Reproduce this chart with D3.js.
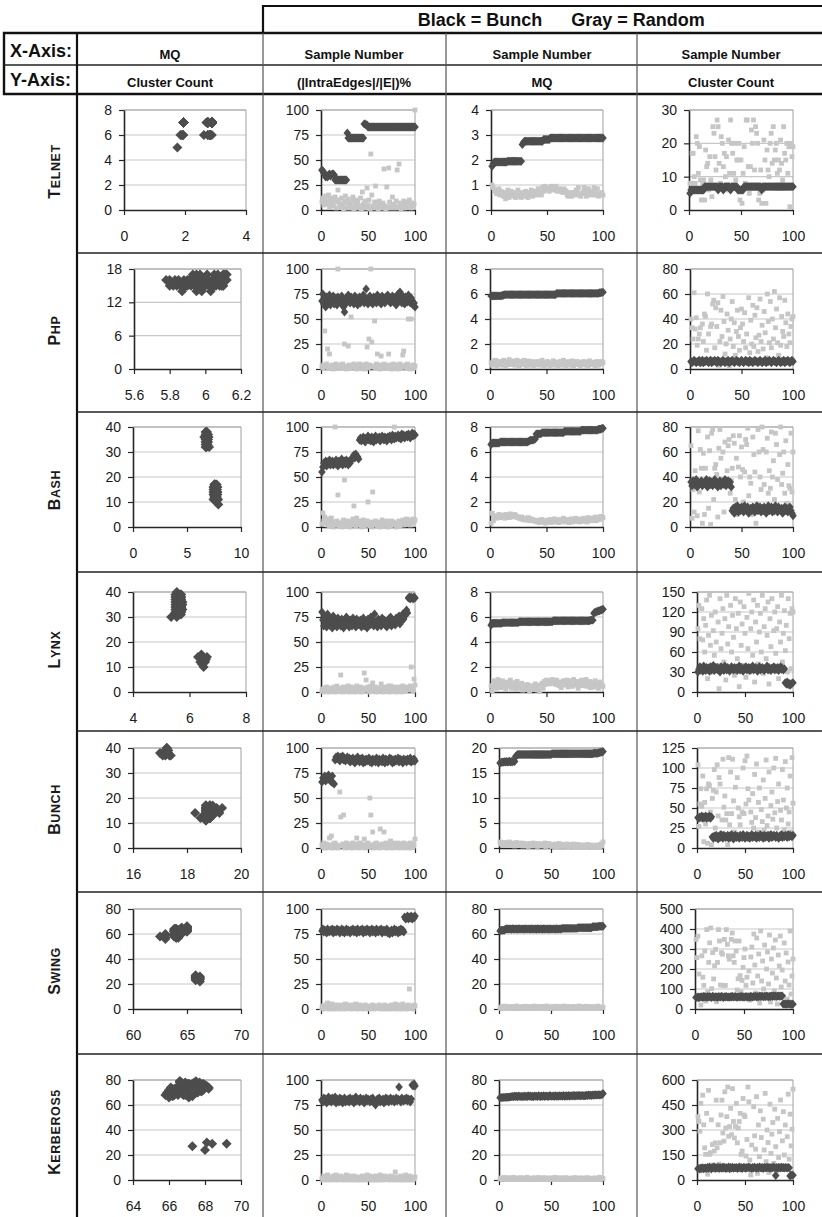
<!DOCTYPE html>
<html><head><meta charset="utf-8">
<script src="https://cdn.jsdelivr.net/npm/d3@7"></script>
<style>
body{margin:0;background:#fff}
svg{display:block}
text{font-family:"Liberation Sans",Arial,Helvetica,sans-serif}
</style>
</head><body>
<svg id="c" width="822" height="1217"></svg>
<script>
// ---------------- DATA ----------------
const systems = ["TELNET","PHP","BASH","LYNX","BUNCH","SWING","KERBEROS5"];
const legendBunch = "Black = Bunch";
const legendRandom = "Gray = Random";
const xAxisLabels = ["MQ","Sample Number","Sample Number","Sample Number"];
const yAxisLabels = ["Cluster Count","(|IntraEdges|/|E|)%","MQ","Cluster Count"];

const sampleTicks = [0,50,100];
const intraTicks = [0,25,50,75,100];
const col1XTicks = [[0,2,4],[5.6,5.8,6,6.2],[0,5,10],[4,6,8],[16,18,20],[60,65,70],[64,66,68,70]];
const col1YTicks = [[0,2,4,6,8],[0,6,12,18],[0,10,20,30,40],[0,10,20,30,40],[0,10,20,30,40],[0,20,40,60,80],[0,20,40,60,80]];
const mqYTicks = [[0,1,2,3,4],[0,2,4,6,8],[0,2,4,6,8],[0,2,4,6,8],[0,5,10,15,20],[0,20,40,60,80],[0,20,40,60,80]];
const countYTicks = [[0,10,20,30],[0,20,40,60,80],[0,20,40,60,80],[0,30,60,90,120,150],[0,25,50,75,100,125],[0,100,200,300,400,500],[0,150,300,450,600]];

// ---- TELNET ----
const telnetIntraBunch = [40,39,37,36,33,34,33,35,36,34, 35,36,36,35,30,30,30,30,30,30, 30,30,30,30,30,30,30,77,72,72, 72,72,72,72,72,72,72,72,72,72, 72,72,72,72,72,86,86,85,85,83, 83,83,83,83,83,83,83,83,83,83, 83,83,83,83,83,83,83,83,83,83, 83,83,83,83,83,83,83,83,83,83, 83,83,83,83,83,83,83,83,83,83, 83,83,83,83,83,83,83,83,83,83];
const telnetIntraRandom = [8,12,5,10,14,6,9,15,3,11, 7,12,4,9,13,2,8,20,10,6, 3,12,5,1,9,14,2,7,11,4, 6,2,9,13,1,5,10,3,8,2, 4,12,1,18,6,3,9,2,22,5, 10,1,56,15,4,2,8,24,3,6, 1,9,3,5,2,7,41,4,1,23, 3,42,8,2,5,13,4,6,2,9, 40,3,46,7,1,5,3,9,2,6, 4,8,3,10,5,2,7,4,6,100];
const telnetMQBunch = [1.75,1.85,1.92,1.92,1.92,1.92,1.92,1.92,1.92,1.92, 1.92,1.92,1.92,1.92,1.95,1.95,1.95,1.95,1.95,1.95, 1.95,1.95,1.95,1.95,1.95,1.95,1.95,2.62,2.7,2.75, 2.75,2.75,2.75,2.75,2.75,2.75,2.75,2.75,2.75,2.75, 2.75,2.75,2.75,2.75,2.75,2.75,2.82,2.82,2.82,2.82, 2.82,2.82,2.88,2.88,2.88,2.88,2.88,2.88,2.88,2.88, 2.88,2.88,2.88,2.88,2.88,2.88,2.88,2.88,2.88,2.88, 2.88,2.88,2.88,2.88,2.88,2.88,2.88,2.88,2.88,2.88, 2.88,2.88,2.88,2.88,2.88,2.88,2.88,2.88,2.88,2.88, 2.88,2.88,2.88,2.88,2.88,2.88,2.88,2.88,2.88,2.88];
const telnetMQRandom = [1.0,0.9,0.75,0.8,0.65,0.7,0.85,0.6,0.75,0.7, 0.55,0.7,0.45,0.6,0.8,0.5,0.65,0.75,0.55,0.6, 0.7,0.5,0.6,0.8,0.55,0.65,0.5,0.7,0.6,0.55, 0.75,0.6,0.5,0.7,0.65,0.8,0.55,0.6,0.75,0.7, 0.6,0.85,0.7,0.65,0.6,0.9,0.75,0.95,0.8,0.85, 0.9,0.75,0.8,0.95,0.85,0.9,0.8,0.95,0.75,0.8, 0.85,0.75,0.8,0.7,0.85,0.8,0.75,0.6,0.55,0.7, 0.6,0.55,0.7,0.65,0.6,0.8,0.75,0.9,0.6,0.55, 0.65,0.7,0.9,0.75,0.55,0.6,0.85,0.7,0.65,0.6, 0.75,0.9,0.6,0.7,0.85,0.55,0.65,0.6,0.7,0.6];
const telnetCountBunch = [5,6,6,6,6,6,6,6,6,6, 6,6,6,6,7,7,7,7,7,7, 7,7,7,7,7,7,7,6,7,7, 7,7,6,7,7,7,7,7,7,6, 7,7,7,7,7,7,6,6,6,6, 6,6,7,7,7,7,7,7,7,7, 7,7,7,7,7,7,7,7,7,6, 7,7,7,7,7,7,7,7,7,7, 7,7,7,7,7,7,7,7,7,7, 7,7,7,7,7,7,7,7,7,7];
const telnetCountRandom = [8,8,17,17,10,8,22,20,11,19, 9,3,8,9,3,18,13,14,6,16, 9,4,25,23,16,12,27,25,14,8, 22,20,13,17,10,16,6,21,11,27, 20,17,11,20,9,15,15,20,3,15, 2,11,19,8,27,27,13,5,13,24, 20,27,12,25,23,20,3,5,12,2, 6,21,15,2,18,12,10,20,23,14, 25,15,18,20,11,15,12,21,14,9, 25,17,15,20,11,19,1,20,16,19];

// ---- PHP ----
const phpIntraBunch = [68,75,65,70,62,72,66,68,74,64, 70,67,73,65,69,71,64,72,67,70, 66,73,68,62,57,65,71,67,74,69, 66,72,68,70,65,73,67,71,64,69, 72,66,70,68,74,66,71,80,68,65, 70,73,67,69,65,72,68,70,66,74, 69,67,71,65,73,68,70,66,72,69, 74,68,71,66,70,73,67,69,72,64, 70,75,68,77,71,66,73,69,65,72, 70,67,74,69,66,71,68,64,66,62];
const phpIntraRandom = [3,1,4,38,2,5,20,1,15,3, 2,4,0,3,1,5,2,100,3,1, 4,2,5,1,25,3,0,2,23,4, 1,52,3,2,5,1,4,0,3,2, 5,1,3,4,2,0,3,5,22,1, 30,4,100,27,2,3,48,1,5,15, 2,4,0,13,3,1,5,2,4,3, 1,15,2,4,0,3,5,1,2,4, 3,0,2,5,1,3,14,18,2,4, 1,5,50,3,0,50,2,4,1,3];
const phpMQBunch = [5.85,5.85,5.85,5.85,5.85,5.85,5.85,5.85,5.85,5.85, 5.9,5.9,5.95,5.95,5.95,5.95,5.95,5.95,5.95,5.95, 5.95,5.95,5.95,5.95,5.95,5.95,5.95,5.95,5.95,5.95, 5.95,5.95,5.95,5.95,5.95,5.95,5.95,5.95,5.95,5.95, 5.95,5.95,5.95,5.95,5.95,5.95,5.95,5.95,5.95,5.95, 5.95,5.95,5.95,5.95,5.95,5.95,5.95,5.95,6.05,6.05, 6.05,6.05,6.05,6.05,6.05,6.05,6.05,6.05,6.05,6.05, 6.05,6.05,6.05,6.05,6.05,6.05,6.05,6.05,6.05,6.05, 6.05,6.05,6.05,6.05,6.05,6.05,6.05,6.05,6.05,6.05, 6.05,6.05,6.05,6.05,6.05,6.05,6.1,6.1,6.12,6.15];
const phpMQRandom = [0.5,0.3,0.65,0.4,0.7,0.25,0.55,0.35,0.6,0.45, 0.3,0.7,0.5,0.2,0.6,0.4,0.75,0.35,0.55,0.45, 0.65,0.3,0.5,0.7,0.4,0.25,0.6,0.45,0.35,0.7, 0.55,0.2,0.45,0.65,0.3,0.5,0.6,0.4,0.25,0.55, 0.35,0.6,0.45,0.3,0.5,0.7,0.4,0.2,0.55,0.35, 0.6,0.45,0.25,0.5,0.35,0.65,0.3,0.55,0.4,0.2, 0.45,0.6,0.3,0.5,0.7,0.35,0.25,0.55,0.4,0.6, 0.3,0.5,0.65,0.2,0.45,0.35,0.6,0.4,0.55,0.25, 0.5,0.35,0.6,0.45,0.3,0.55,0.2,0.65,0.4,0.5, 0.35,0.55,0.25,0.45,0.6,0.3,0.5,0.4,0.6,0.5];
const phpCountBunch = [6,5,6,7,6,5,6,6,7,5, 6,7,5,6,6,7,6,5,6,7, 5,6,6,7,6,5,7,6,6,5, 6,7,6,5,6,6,7,5,6,6, 7,6,5,6,7,6,6,5,6,7, 6,5,6,7,6,6,5,7,6,6, 5,6,7,6,6,5,6,7,6,5, 6,6,7,5,6,6,7,6,5,6, 7,6,6,5,6,7,6,5,6,6, 7,5,6,6,7,6,5,6,7,6];
const phpCountRandom = [40,33,24,61,32,41,19,24,28,33, 4,36,22,44,42,15,60,28,8,34, 36,52,55,17,49,34,53,3,22,47, 26,58,38,12,20,44,31,2,24,40, 54,18,37,11,30,47,26,15,33,48, 36,22,45,17,28,5,57,13,39,20, 51,18,43,25,49,14,27,56,22,35, 16,46,29,9,60,38,21,54,17,40, 24,62,33,48,21,11,57,19,42,30, 26,55,37,18,44,28,21,34,40,42];
// PHP: the MQ vs cluster-count panel shows its own sample set
const phpScatterMQ = [5.78,5.8,5.8,5.82,5.83,5.84,5.85,5.86,5.87,5.88, 5.88,5.89,5.9,5.9,5.91,5.92,5.92,5.93,5.94,5.94, 5.95,5.95,5.96,5.96,5.97,5.97,5.98,5.98,5.99,5.99, 6.0,6.0,6.01,6.01,6.02,6.02,6.03,6.03,6.04,6.04, 6.05,6.05,6.06,6.06,6.07,6.07,6.08,6.08,6.09,6.09, 6.1,6.1,6.1,6.11,6.11,6.11,6.12,6.12,6.1,6.08];
const phpScatterCount = [16,15,16,15,16,15,16,15,14,15, 16,15,16,15,16,16,15,17,15,16, 17,14,16,15,17,16,15,14,16,15, 16,15,17,16,15,16,14,15,16,15, 17,15,16,15,16,17,15,16,15,16, 17,16,15,17,16,16,17,16,15,16];

// ---- BASH ----
const bashIntraBunch = [55,60,64,62,66,61,65,63,67,62, 64,66,62,65,63,67,64,61,66,63, 65,68,62,64,66,63,67,65,62,66, 64,67,68,70,72,69,73,71,70,68, 87,89,86,88,90,87,85,89,88,91, 87,89,86,90,88,85,89,91,87,89, 88,90,86,89,91,88,87,90,89,86, 90,88,91,89,87,92,90,88,91,89, 90,92,89,91,88,93,90,92,89,91, 92,90,93,91,89,92,94,91,93,92];
const bashIntraRandom = [3,14,6,10,4,8,2,5,1,7, 9,3,0,5,100,2,6,32,1,4, 3,0,5,7,47,2,1,4,6,3, 0,5,2,8,21,4,1,9,3,6, 2,5,0,3,7,1,4,2,6,25, 3,1,5,0,35,4,2,6,3,1, 5,2,0,4,7,1,3,5,2,6, 0,4,3,1,6,2,5,100,3,0, 4,2,6,1,5,3,7,2,4,6, 8,3,5,7,2,6,4,8,5,7];
const bashMQBunch = [6.6,6.72,6.72,6.72,6.72,6.72,6.72,6.72,6.8,6.8, 6.8,6.8,6.8,6.8,6.8,6.8,6.8,6.8,6.8,6.8, 6.8,6.8,6.8,6.8,6.8,6.8,6.8,6.8,6.8,6.8, 6.8,6.8,6.8,6.85,6.9,6.95,6.95,6.95,7.0,7.05, 7.45,7.45,7.45,7.45,7.45,7.55,7.55,7.55,7.55,7.55, 7.55,7.55,7.55,7.55,7.55,7.55,7.55,7.55,7.55,7.55, 7.55,7.55,7.55,7.55,7.55,7.65,7.65,7.65,7.65,7.65, 7.65,7.65,7.65,7.65,7.65,7.65,7.65,7.65,7.65,7.65, 7.75,7.75,7.75,7.75,7.75,7.75,7.75,7.75,7.75,7.75, 7.75,7.75,7.75,7.75,7.75,7.82,7.82,7.82,7.88,7.9];
const bashMQRandom = [0.3,1.1,0.5,0.8,0.9,0.7,0.85,1.0,0.75,0.9, 0.8,0.95,0.7,1.0,0.85,0.9,0.75,1.05,0.8,0.95, 0.85,1.0,0.9,0.75,0.8,0.7,0.65,0.8,0.6,0.7, 0.55,0.7,0.6,0.75,0.5,0.65,0.55,0.6,0.5,0.45, 0.5,0.4,0.55,0.35,0.45,0.6,0.4,0.5,0.3,0.45, 0.55,0.4,0.6,0.35,0.5,0.45,0.65,0.4,0.55,0.5, 0.35,0.6,0.45,0.5,0.7,0.4,0.55,0.45,0.6,0.35, 0.5,0.65,0.4,0.55,0.45,0.7,0.5,0.6,0.4,0.55, 0.65,0.45,0.7,0.5,0.6,0.4,0.75,0.55,0.65,0.5, 0.7,0.6,0.8,0.5,0.65,0.75,0.6,0.85,0.7,0.75];
const bashCountBunch = [36,33,37,34,35,38,32,36,34,35, 37,33,35,36,34,38,32,35,37,34, 36,33,35,38,34,36,32,35,37,33, 35,36,34,38,33,35,37,34,36,32, 13,15,11,16,14,17,12,15,13,16, 14,12,17,15,13,16,11,14,15,13, 16,14,12,15,17,13,14,16,12,15, 13,16,14,11,15,17,13,14,16,12, 15,13,17,14,12,16,14,13,15,11, 14,16,13,15,12,14,16,13,11,9];
const bashCountRandom = [65,7,30,12,45,32,9,77,28,62, 47,3,59,10,47,35,72,15,61,2, 75,78,22,47,50,42,8,63,78,55, 38,60,12,68,33,45,65,70,27,37, 47,73,67,22,55,10,48,73,40,64, 46,20,44,70,66,79,25,40,35,10, 72,58,44,3,18,78,60,40,30,80, 62,34,14,60,71,27,45,31,76,40, 53,22,75,66,38,12,58,80,34,43, 60,27,69,19,50,33,31,75,28,60];

// ---- LYNX ----
const lynxIntraBunch = [80,72,66,75,70,65,78,68,73,66, 71,64,76,69,67,72,65,74,68,70, 66,73,69,64,71,67,75,68,70,65, 72,68,66,74,69,71,65,73,67,70, 68,72,65,70,74,66,71,69,64,73, 70,67,75,68,72,66,78,69,71,65, 73,68,70,66,74,69,72,67,71,65, 70,73,68,75,66,72,69,71,67,74, 70,72,76,68,74,71,78,73,76,80, 82,79,94,95,93,95,94,93,95,94];
const lynxIntraRandom = [1,3,0,4,2,5,1,3,0,2, 4,1,3,5,0,2,6,3,1,4, 17,2,0,5,3,1,4,2,6,0, 3,5,1,4,2,0,3,6,1,4, 2,5,0,3,1,19,4,12,2,5, 0,3,6,1,9,4,2,5,0,3, 1,4,2,8,3,0,5,2,4,1, 3,6,0,6,2,4,1,5,3,0, 4,2,5,1,3,0,6,2,4,1, 3,5,2,4,6,25,3,1,13,7];
const lynxMQBunch = [5.35,5.5,5.5,5.5,5.5,5.5,5.5,5.5,5.5,5.5, 5.55,5.55,5.55,5.55,5.55,5.55,5.55,5.55,5.55,5.55, 5.55,5.55,5.55,5.55,5.55,5.62,5.62,5.62,5.62,5.62, 5.62,5.62,5.62,5.62,5.62,5.62,5.62,5.62,5.62,5.62, 5.62,5.62,5.62,5.62,5.62,5.62,5.62,5.62,5.62,5.62, 5.62,5.62,5.62,5.62,5.62,5.7,5.7,5.7,5.7,5.7, 5.7,5.7,5.7,5.7,5.7,5.7,5.7,5.7,5.7,5.7, 5.7,5.7,5.7,5.7,5.7,5.7,5.7,5.7,5.7,5.7, 5.7,5.7,5.7,5.7,5.7,5.7,5.7,5.7,5.75,5.75, 5.75,6.3,6.38,6.42,6.45,6.48,6.5,6.55,6.58,6.62];
const lynxMQRandom = [0.5,0.1,0.9,0.4,0.7,0.3,1.0,0.6,0.8,0.35, 0.9,0.55,0.7,0.25,0.8,0.45,0.6,0.95,0.3,0.75, 0.5,0.65,0.2,0.85,0.4,0.6,0.3,0.7,0.15,0.55, 0.45,0.25,0.6,0.35,0.1,0.5,0.3,0.4,0.2,0.65, 0.35,0.15,0.55,0.05,0.45,0.7,0.3,0.85,0.6,0.95, 0.75,0.9,0.65,0.8,1.0,0.7,0.85,0.6,0.95,0.75, 0.5,0.8,0.35,0.7,0.9,0.55,0.65,0.95,0.4,0.8, 0.6,0.9,0.45,1.0,0.7,0.55,0.85,0.3,0.75,0.65, 0.95,0.5,0.8,0.6,1.0,0.45,0.7,0.85,0.35,0.6, 0.75,0.4,0.9,0.55,0.65,0.3,0.8,0.5,0.6,0.45];
const lynxCountBunch = [30,34,38,33,36,31,39,35,32,37, 34,36,31,38,33,35,40,32,36,34, 37,33,35,30,38,34,36,32,39,35, 33,37,34,31,36,38,35,33,37,34, 36,32,35,39,33,37,34,31,36,35, 38,33,35,37,32,36,34,39,33,35, 37,34,31,36,38,33,35,37,34,32, 36,35,39,33,37,34,32,36,35,38, 33,36,34,37,32,35,38,34,36,33, 35,14,12,15,11,13,10,12,13,14];
const lynxCountRandom = [95,130,80,35,125,78,110,60,100,138, 20,85,145,70,115,30,92,55,120,75, 40,105,5,140,65,88,125,45,110,18, 145,72,98,35,130,60,115,82,25,140, 95,50,118,8,135,70,102,40,128,88, 22,112,65,148,30,95,120,55,138,15, 105,75,130,42,90,118,60,145,28,98, 125,50,85,135,12,110,68,140,38,92, 120,58,95,128,20,105,75,145,45,88, 122,62,100,30,140,80,118,35,125,120];

// ---- BUNCH ----
const bunchIntraBunch = [66,70,68,72,67,71,69,73,68,70, 66,72,65,64,88,91,89,92,90,87, 91,89,92,88,90,87,89,91,88,90, 86,89,87,90,88,85,89,87,91,88, 86,89,87,90,85,88,86,89,87,88, 90,86,88,85,89,87,88,86,90,87, 85,89,87,88,86,90,87,85,89,88, 86,88,90,87,89,85,88,86,89,87, 88,90,86,89,87,88,85,89,87,88, 86,89,88,87,90,86,88,87,89,87];
const bunchIntraRandom = [3,1,5,2,0,4,1,3,10,2, 12,0,4,2,5,1,3,0,2,56, 31,2,4,33,1,0,5,3,2,4, 1,3,0,5,2,4,1,10,3,0, 5,2,4,1,3,9,0,2,4,5, 1,50,33,3,16,0,4,2,5,1, 3,0,19,2,4,1,16,3,5,0, 2,4,1,7,3,0,5,2,4,1, 3,5,0,2,4,1,3,5,0,2, 4,1,3,0,5,2,4,1,3,9];
const bunchMQBunch = [17.0,17.1,17.2,17.15,17.25,17.2,17.3,17.2,17.25,17.35, 17.2,17.3,17.25,17.4,17.3,18.3,18.5,18.7,18.7,18.7, 18.7,18.7,18.7,18.7,18.7,18.7,18.7,18.7,18.7,18.7, 18.7,18.7,18.7,18.7,18.7,18.7,18.7,18.7,18.7,18.7, 18.7,18.7,18.7,18.7,18.7,18.7,18.7,18.7,18.7,18.7, 18.85,18.85,18.85,18.85,18.85,18.85,18.85,18.85,18.85,18.85, 18.85,18.85,18.85,18.85,18.85,18.85,18.85,18.85,18.85,18.85, 18.85,18.85,18.85,18.85,18.85,18.85,18.85,18.85,18.85,18.85, 18.85,18.85,18.85,18.85,18.85,18.85,18.85,18.85,18.85,18.85, 18.95,18.95,18.95,18.95,18.95,19.05,19.1,19.15,19.2,19.3];
const bunchMQRandom = [1.2,0.8,1.0,0.6,1.1,0.9,0.5,1.0,0.7,1.2, 0.8,0.6,1.0,0.9,0.4,0.7,1.1,0.5,0.8,0.9, 0.6,1.0,0.4,0.7,0.9,0.5,0.8,0.3,0.6,0.9, 0.7,0.4,1.0,0.5,0.8,0.6,0.3,0.9,0.7,0.5, 0.8,0.4,0.6,1.0,0.3,0.7,0.5,0.9,0.4,0.6, 0.3,0.7,0.5,0.8,0.2,0.6,0.4,0.9,0.3,0.5, 0.7,0.3,0.6,0.4,0.8,0.2,0.5,0.7,0.3,0.6, 0.4,0.8,0.2,0.5,0.3,0.7,0.4,0.6,0.2,0.5, 0.3,0.6,0.4,0.2,0.7,0.3,0.5,0.4,0.6,0.2, 0.5,0.3,0.4,0.6,0.2,0.5,0.3,0.8,0.4,1.2];
const bunchCountBunch = [38,37,39,38,40,37,39,38,40,37, 39,38,40,37,39,14,12,15,13,16, 14,11,15,13,17,14,12,16,15,13, 14,16,12,15,13,17,14,11,15,16, 13,15,14,12,16,14,13,17,15,12, 14,16,13,15,12,14,17,13,15,14, 16,12,15,14,13,17,14,15,12,16, 13,15,14,16,12,15,17,13,14,16, 15,13,16,14,12,15,14,17,13,15, 14,16,15,13,17,14,16,15,14,16];
const bunchCountRandom = [104,27,55,74,52,90,8,57,30,74, 6,80,78,45,4,62,72,98,25,70, 104,40,88,80,18,35,111,51,65,35, 43,4,113,29,95,43,111,59,20,76, 16,88,50,39,29,16,45,100,43,109, 55,115,74,60,12,45,32,68,25,92, 38,105,20,57,75,14,48,33,85,22, 62,110,28,40,95,18,53,70,36,100, 44,112,25,58,80,15,47,35,98,60, 23,108,50,75,30,45,90,20,113,56];

// ---- SWING ----
const swingIntraBunch = [78,80,77,79,78,76,80,78,77,79, 78,80,76,79,78,77,80,78,79,76, 78,80,77,79,76,78,80,77,79,78, 76,79,78,80,77,78,79,76,80,78, 77,79,78,80,76,78,79,77,80,78, 79,76,78,80,77,79,78,76,80,78, 77,79,78,80,76,78,79,77,78,80, 76,78,75,77,79,76,78,80,77,79, 78,76,79,77,80,78,79,77,92,90, 91,93,90,92,91,93,90,92,91,93];
const swingIntraRandom = [1,3,0,2,4,1,6,2,0,3, 2,5,1,0,3,2,4,1,3,0, 2,4,1,3,0,5,2,1,4,2, 3,0,2,4,1,3,5,2,0,1, 4,2,3,1,0,2,4,3,1,2, 0,3,1,2,4,0,2,1,3,2, 1,4,2,0,3,1,2,4,0,2, 3,1,2,0,4,2,1,3,5,0, 2,4,1,3,0,2,5,1,3,2, 0,2,4,20,1,3,2,0,4,3];
const swingMQBunch = [62.5,63,63,63,63,63.8,64,64.2,63.9,64.1, 64,63.8,64.2,64,63.9,64.1,64,63.8,64.2,64, 63.9,64.1,64,63.8,64.2,64,63.9,64.1,64,63.8, 64.2,64,63.9,64.1,64,63.8,64.2,64,63.9,64.1, 64,63.8,64.2,64,63.9,64.1,64,63.8,64.2,64, 63.9,64.1,64,63.8,64.2,64,63.9,64.1,64,64.2, 64.5,64.5,64.5,64.5,64.5,64.5,64.5,64.5,64.5,64.5, 64.5,64.5,64.5,64.5,64.5,65,65,65,65,65, 65,65,65,65,65,65,65,65,65,65.8, 65.8,65.8,65.8,65.8,65.8,66.2,66.2,66.2,66.2,66.2];
const swingMQRandom = [1.2,0.5,2.0,0.8,1.5,2.3,0.6,1.1,1.8,0.4, 1.4,2.1,0.7,1.0,1.7,0.5,2.4,1.3,0.9,1.6, 0.6,1.9,1.2,0.4,2.2,1.0,1.5,0.7,2.0,1.1, 1.7,0.5,1.3,2.3,0.8,1.6,0.4,1.9,1.2,0.7, 2.1,1.0,1.5,0.6,1.8,2.4,0.9,1.3,0.5,1.7, 1.1,2.0,0.7,1.4,2.2,0.5,1.6,1.0,1.9,0.8, 1.3,2.3,0.6,1.5,1.1,2.0,0.4,1.7,0.9,1.4, 2.1,0.7,1.2,1.8,0.5,1.6,2.4,1.0,1.3,0.8, 1.9,0.6,1.5,2.2,1.1,0.7,1.7,1.3,2.0,0.5, 1.4,0.9,1.8,1.2,2.3,0.6,1.6,1.0,1.5,1.2];
const swingCountBunch = [58,57,60,56,59,59,62,57,64,60, 61,58,63,59,62,60,57,64,61,59, 62,60,58,63,61,59,64,60,57,62, 60,63,59,61,58,62,60,64,59,61, 63,60,58,62,61,59,64,60,62,58, 61,63,59,60,62,58,64,61,60,63, 62,64,60,63,61,65,62,64,63,61, 64,62,65,63,61,64,62,66,63,65, 63,65,62,64,66,63,65,64,66,25, 24,26,23,25,27,24,26,22,25,24];
const swingCountRandom = [348,257,364,175,69,20,266,159,118,290, 40,397,85,233,331,405,102,282,150,216, 298,36,233,397,340,120,282,274,118,348, 118,397,323,266,249,60,348,380,266,233, 340,290,95,151,340,167,85,143,208,257, 300,118,159,69,190,45,260,310,130,375, 220,80,355,165,275,30,390,140,240,100, 320,55,200,285,125,370,35,250,180,305, 90,345,155,25,270,215,365,110,195,60, 330,140,280,50,235,120,390,75,165,250];

// ---- KERBEROS5 ----
const kerberosIntraBunch = [80,78,82,79,81,77,80,83,79,81, 78,82,80,79,83,77,81,80,78,82, 79,81,77,80,82,78,80,79,81,78, 82,80,79,81,77,80,83,79,81,80, 78,82,80,79,81,77,80,82,79,81, 80,78,81,79,82,80,77,75,79,81, 80,82,78,80,79,81,77,80,82,79, 81,78,80,82,79,80,81,78,80,82, 79,81,93,80,78,82,80,79,81,80, 82,79,81,80,78,81,95,94,96,94];
const kerberosIntraRandom = [2,0,4,1,3,0,5,2,1,3, 0,2,4,1,3,5,0,2,1,3, 4,1,0,2,3,1,5,0,2,4, 1,3,0,2,4,1,3,0,2,1, 3,0,2,4,1,3,0,2,5,1, 2,4,0,1,3,2,0,4,1,3, 0,2,5,1,3,0,2,4,1,2, 3,1,0,4,2,1,3,0,8,2, 1,3,0,2,4,1,0,3,2,5, 1,0,2,4,1,3,0,2,1,3];
const kerberosMQBunch = [65.8,65.9,66,66,66.1,66.1,66.2,66.2,66.3,66.3, 66.5,66.7,66.9,66.6,67.1,66.8,67,66.6,67.2,66.9, 66.7,67,66.5,67.3,66.8,67.1,66.6,67.4,66.9,67.2, 66.8,67,66.6,67.3,66.9,67.1,66.7,67.5,67,66.8, 67.2,66.9,67.4,66.7,67.1,67.3,66.8,67,67.6,66.9, 67.1,67.3,66.8,67.5,67,67.2,66.9,67.4,67.1,67.3, 67,67.6,66.9,67.2,67.4,67.1,67.7,67,67.3,67.5, 67.2,67.8,67.1,67.4,67.6,67.3,67.9,67.2,67.5,67.7, 67.4,67.3,67.6,67.8,67.5,68,67.7,67.9,67.6,68.1, 67.8,68,68.2,67.9,68.1,68.2,68,68.1,68.4,69.2];
const kerberosMQRandom = [0.9,1.6,0.4,1.2,2.0,0.7,1.4,0.3,1.8,1.0, 0.6,1.5,1.1,2.1,0.5,1.3,0.8,1.7,0.4,1.2, 1.9,0.7,1.4,1.0,0.3,1.6,2.2,0.9,1.2,0.5, 1.5,1.1,0.6,1.8,1.3,0.4,1.0,2.0,0.8,1.4, 0.7,1.2,1.9,0.5,1.1,1.6,0.9,0.3,1.4,1.7, 1.0,0.6,1.3,2.1,0.8,1.5,0.4,1.2,1.8,0.9, 1.4,0.7,1.1,1.9,0.5,1.3,1.0,1.6,0.3,1.2, 0.8,1.5,2.0,0.6,1.1,1.4,0.9,1.7,0.5,1.3, 1.0,1.6,0.4,1.2,1.9,0.7,1.3,1.1,0.6,1.5, 1.2,0.8,1.7,1.0,0.4,1.4,2.2,0.9,1.3,1.1];
const kerberosCountBunch = [68,70,66,72,69,74,67,71,73,68, 75,70,78,72,66,76,73,79,69,74, 71,77,68,75,73,70,78,72,76,69, 74,71,79,67,75,72,77,70,74,73, 76,69,73,78,71,75,68,74,77,72, 70,76,73,79,71,74,68,75,72,77, 73,70,76,71,78,74,72,75,69,76, 74,71,77,73,75,70,76,72,74,78, 73,27,75,71,76,74,72,77,73,75, 71,76,74,72,75,73,24,30,29,29];
const kerberosCountRandom = [380,351,292,460,60,509,331,193,154,400, 35,538,154,164,361,213,90,174,223,479, 193,331,95,223,390,479,282,233,529,312, 380,558,262,321,430,272,548,351,252,321, 460,223,312,351,400,154,174,489,390,380, 144,243,558,469,120,30,210,75,440,265, 185,500,40,330,140,415,255,65,365,180, 520,110,300,225,45,455,160,275,345,100, 425,200,55,370,135,290,480,85,235,410, 150,330,70,260,515,125,395,205,305,545];

// ---------------- TABLE BUILT FROM THE ARRAYS ----------------
const rows = [
  {intra:[telnetIntraBunch,telnetIntraRandom], mq:[telnetMQBunch,telnetMQRandom], cnt:[telnetCountBunch,telnetCountRandom]},
  {intra:[phpIntraBunch,phpIntraRandom], mq:[phpMQBunch,phpMQRandom], cnt:[phpCountBunch,phpCountRandom], scatter:[phpScatterMQ,phpScatterCount]},
  {intra:[bashIntraBunch,bashIntraRandom], mq:[bashMQBunch,bashMQRandom], cnt:[bashCountBunch,bashCountRandom]},
  {intra:[lynxIntraBunch,lynxIntraRandom], mq:[lynxMQBunch,lynxMQRandom], cnt:[lynxCountBunch,lynxCountRandom]},
  {intra:[bunchIntraBunch,bunchIntraRandom], mq:[bunchMQBunch,bunchMQRandom], cnt:[bunchCountBunch,bunchCountRandom]},
  {intra:[swingIntraBunch,swingIntraRandom], mq:[swingMQBunch,swingMQRandom], cnt:[swingCountBunch,swingCountRandom]},
  {intra:[kerberosIntraBunch,kerberosIntraRandom], mq:[kerberosMQBunch,kerberosMQRandom], cnt:[kerberosCountBunch,kerberosCountRandom]}
];

// ---------------- LAYOUT ----------------
const rowTop = [94,253,412,572,731,892,1054];
const rowBottom = [253,412,572,731,892,1054,1214];
const plotTop = [110,269,427,592,748,909,1080];
const plotH = 100;
const plotX = [
  [[124,246],[321,415],[491,603],[689,793]],
  [[134,241],[321,415],[490,603],[690,793]],
  [[133,241],[321,415],[490,603],[690,793]],
  [[133,246],[321,415],[490,603],[697,793]],
  [[133,241],[321,415],[499,603],[697,793]],
  [[133,241],[321,415],[499,603],[695,793]],
  [[133,241],[321,415],[499,603],[697,793]]
];
const colLines = [77,263,446,637];
const colCenters = [170,354,542,731];
const DARK = "#4d4d4d", LIGHT = "#c6c6c6";

const svg = d3.select("#c");

// ---- header ----
const hd = svg.append("g");
hd.append("path").attr("d","M263,33V6H823").attr("fill","none").attr("stroke","#111").attr("stroke-width",2.2);
hd.append("text").attr("x",480).attr("y",26).attr("text-anchor","middle").attr("font-size",18).attr("font-weight","bold").attr("fill","#111").text(legendBunch);
hd.append("text").attr("x",638).attr("y",26).attr("text-anchor","middle").attr("font-size",18).attr("font-weight","bold").attr("fill","#111").text(legendRandom);
hd.append("path").attr("d","M823,33H4V94H823").attr("fill","none").attr("stroke","#111").attr("stroke-width",2.4);
hd.append("line").attr("x1",4).attr("x2",823).attr("y1",65).attr("y2",65).attr("stroke","#222").attr("stroke-width",1.6);
hd.append("text").attr("x",10).attr("y",57).attr("font-size",18).attr("font-weight","bold").attr("fill","#111").text("X-Axis:");
hd.append("text").attr("x",10).attr("y",86).attr("font-size",18).attr("font-weight","bold").attr("fill","#111").text("Y-Axis:");
xAxisLabels.forEach((t,i)=>hd.append("text").attr("x",colCenters[i]).attr("y",59).attr("text-anchor","middle").attr("font-size",13).attr("font-weight","bold").attr("fill","#111").text(t));
yAxisLabels.forEach((t,i)=>hd.append("text").attr("x",colCenters[i]).attr("y",87).attr("text-anchor","middle").attr("font-size",13).attr("font-weight","bold").attr("fill","#111").text(t));

// ---- grid lines ----
const gl = svg.append("g");
gl.append("line").attr("x1",77).attr("x2",77).attr("y1",33).attr("y2",1217).attr("stroke","#111").attr("stroke-width",2.2);
colLines.slice(1).forEach(x=>gl.append("line").attr("x1",x).attr("x2",x).attr("y1",33).attr("y2",1217).attr("stroke","#555").attr("stroke-width",1.2));
rowTop.slice(1).forEach(y=>gl.append("line").attr("x1",77).attr("x2",823).attr("y1",y).attr("y2",y).attr("stroke","#222").attr("stroke-width",1.6));

// ---- row labels (small caps) ----
systems.forEach((s,r)=>{
  const cy = (rowTop[r]+rowBottom[r])/2 - 2;
  const t = svg.append("text").attr("transform",`translate(60,${cy}) rotate(-90)`).attr("text-anchor","middle")
    .attr("font-weight","bold").attr("fill","#1a1a1a").attr("letter-spacing",0.6);
  t.append("tspan").attr("font-size",16).text(s[0]);
  t.append("tspan").attr("font-size",12.5).text(s.slice(1));
});

const bigDiamond = "M0,-5L5,0L0,5L-5,0Z";
const smallDiamond = "M0,-4.4L3.8,0L0,4.4L-3.8,0Z";

function panel(r, c, xDom, xTicks, yDom, yTicks, bunchPts, randPts, marker){
  const [l, rr] = plotX[r][c];
  const top = plotTop[r], bot = top + plotH;
  const x = d3.scaleLinear().domain(xDom).range([l, rr]);
  const y = d3.scaleLinear().domain(yDom).range([bot, top]);
  const g = svg.append("g");
  g.selectAll(".gy").data(yTicks.slice(1)).join("line")
    .attr("x1",l).attr("x2",rr).attr("y1",d=>y(d)).attr("y2",d=>y(d))
    .attr("stroke","#c8c8c8").attr("stroke-width",1.1);
  g.append("path").attr("d",`M${l},${top}H${rr}V${bot}`).attr("fill","none").attr("stroke","#a0a0a0").attr("stroke-width",1);
  const ax = g.append("g").attr("transform",`translate(${l},0)`)
    .call(d3.axisLeft(y).tickValues(yTicks).tickSize(5).tickSizeOuter(0).tickPadding(7).tickFormat(d3.format("")));
  const bx = g.append("g").attr("transform",`translate(0,${bot})`)
    .call(d3.axisBottom(x).tickValues(xTicks).tickSize(5).tickSizeOuter(0).tickPadding(16).tickFormat(d=>String(+d.toFixed(2))));
  [ax,bx].forEach(a=>{
    a.select(".domain").attr("stroke","#262626").attr("stroke-width",1.6);
    a.selectAll(".tick line").attr("stroke","#262626").attr("stroke-width",1.2);
    a.selectAll(".tick text").attr("font-size",14).attr("fill","#1a1a1a").attr("font-family",'"Liberation Sans",Arial,sans-serif');
  });
  if (randPts) g.selectAll(".rp").data(randPts).join("rect")
    .attr("x",d=>x(d[0])-2.4).attr("y",d=>y(d[1])-2.4).attr("width",4.8).attr("height",4.8).attr("fill",LIGHT);
  g.selectAll(".bp").data(bunchPts).join("path")
    .attr("d",marker).attr("transform",d=>`translate(${x(d[0])},${y(d[1])})`).attr("fill",DARK);
}

const bySample = arr => arr.map((v,i)=>[i+1,v]);

rows.forEach((row,r)=>{
  const sc = row.scatter ? row.scatter : [row.mq[0], row.cnt[0]];
  const pts = sc[0].map((m,i)=>[m, sc[1][i]]);
  const xt = col1XTicks[r], yt = col1YTicks[r];
  panel(r,0,[xt[0],xt[xt.length-1]],xt,[yt[0],yt[yt.length-1]],yt,pts,null,bigDiamond);
  panel(r,1,[0,100],sampleTicks,[0,100],intraTicks,bySample(row.intra[0]),bySample(row.intra[1]),smallDiamond);
  const mt = mqYTicks[r];
  panel(r,2,[0,100],sampleTicks,[0,mt[mt.length-1]],mt,bySample(row.mq[0]),bySample(row.mq[1]),smallDiamond);
  const ct = countYTicks[r];
  panel(r,3,[0,100],sampleTicks,[0,ct[ct.length-1]],ct,bySample(row.cnt[0]),bySample(row.cnt[1]),smallDiamond);
});
</script>
</body></html>
